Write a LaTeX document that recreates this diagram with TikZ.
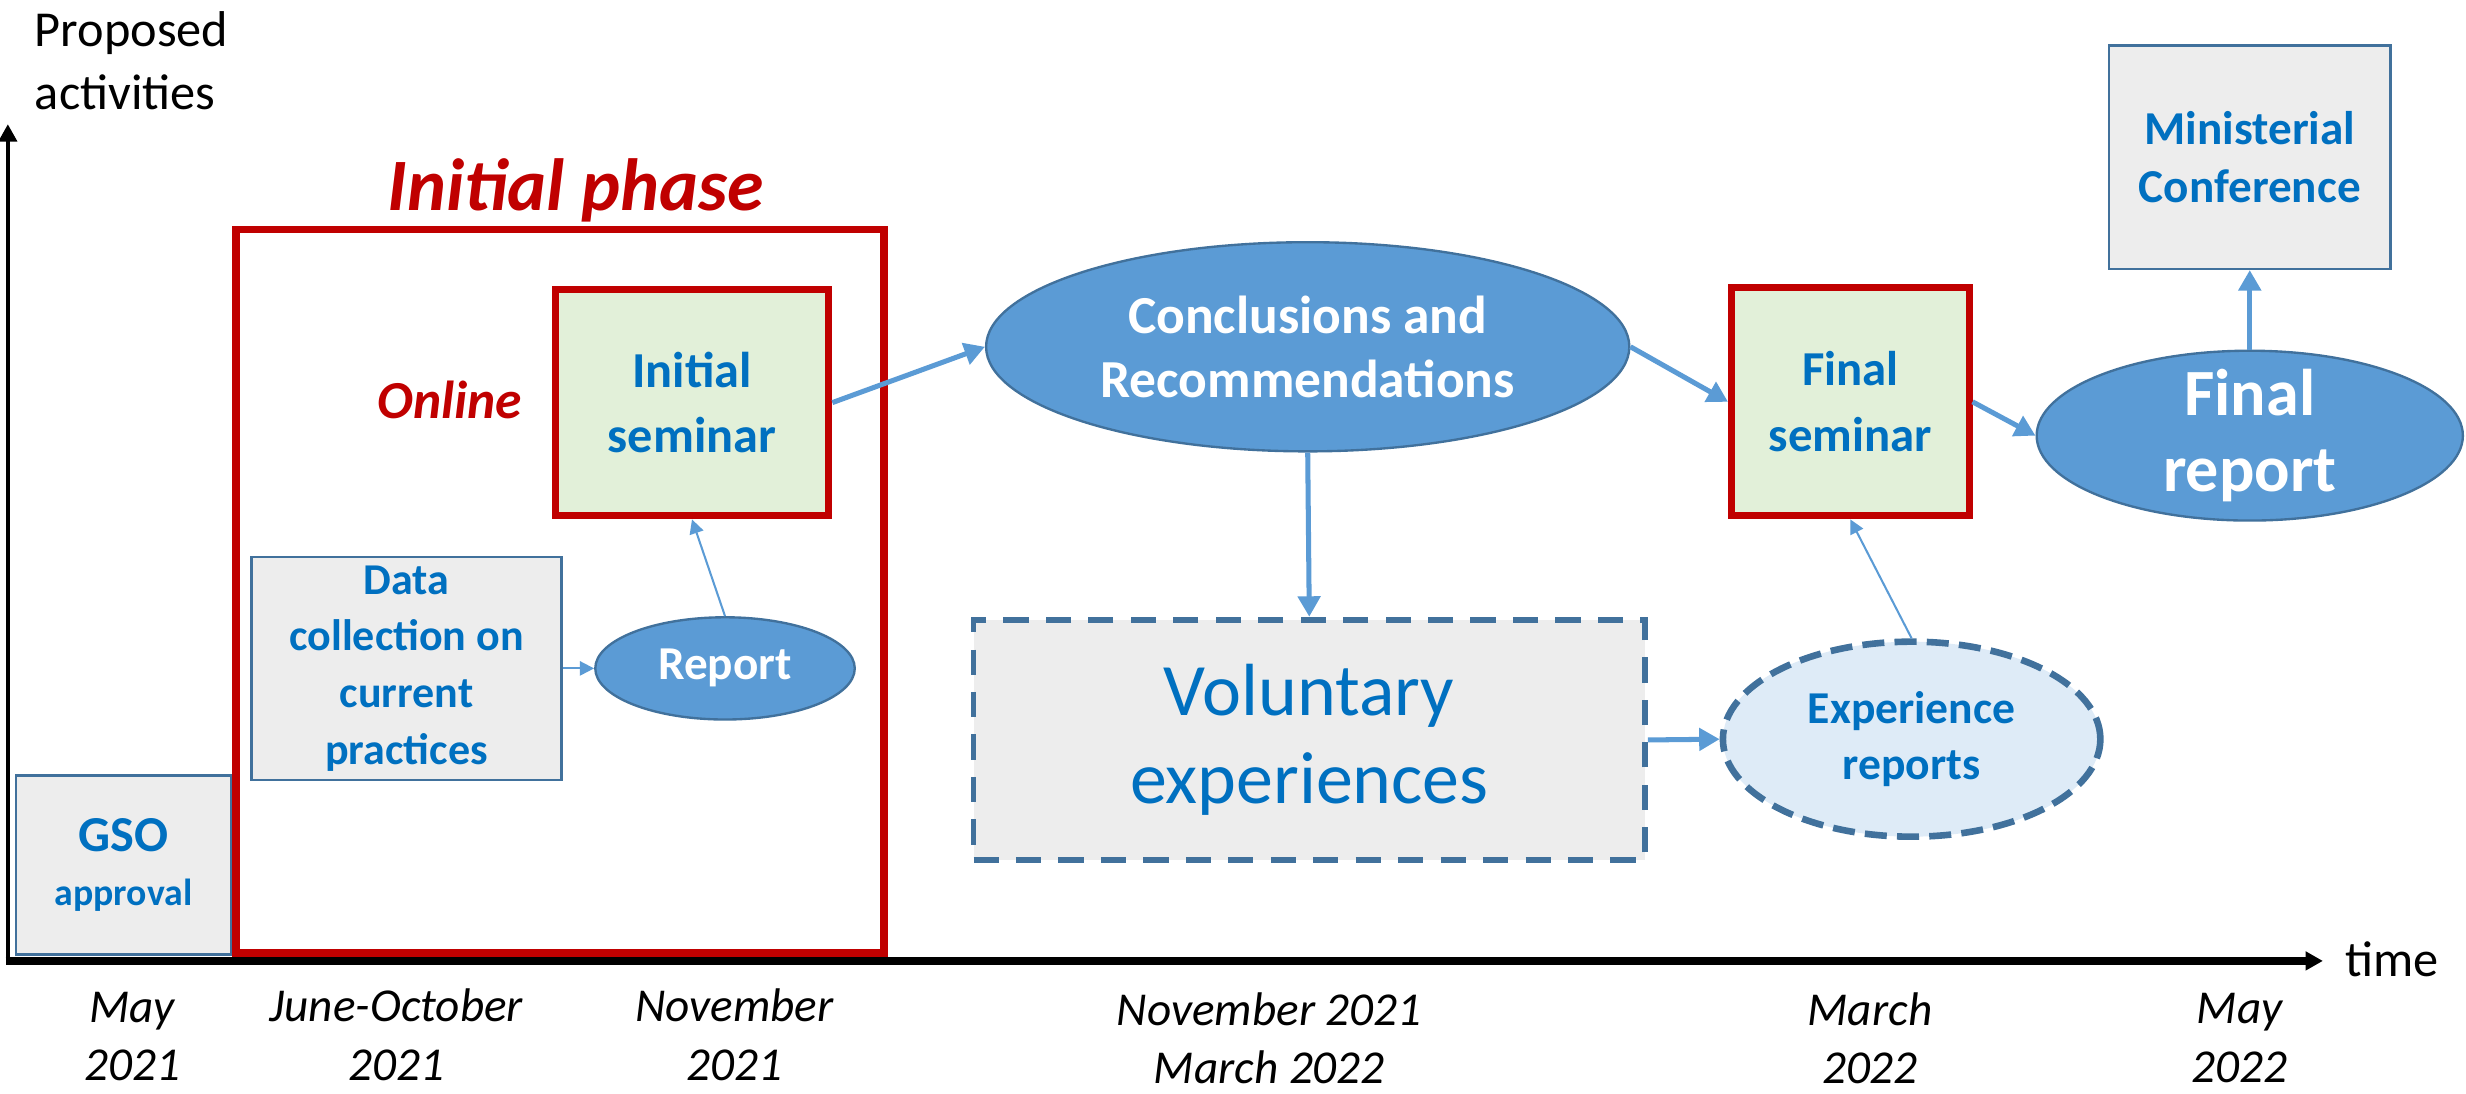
\documentclass[tikz,border=0pt]{standalone}
\usepackage{fontspec}
\setmainfont{Carlito}
\usetikzlibrary{arrows.meta,shapes.geometric}
\definecolor{phasered}{HTML}{C00000}
\definecolor{textblue}{HTML}{0070C0}
\definecolor{ovalblue}{HTML}{5B9BD5}
\definecolor{edgeblue}{HTML}{41719C}
\definecolor{boxgray}{HTML}{EDEDED}
\definecolor{seminargreen}{HTML}{E2F0D9}
\definecolor{paleblue}{HTML}{DEEBF7}

\begin{document}
\begin{tikzpicture}[x=1pt,y=-1pt]
        \tikzset{graybox/.style = {shape=rectangle,draw=edgeblue,fill=boxgray,line width=1.5pt,text=textblue,align=center,inner sep=0pt}}
        \tikzset{seminar/.style = {shape=rectangle,draw=phasered,fill=seminargreen,line width=4.5pt,text=textblue,align=center,inner sep=0pt,font=\fontsize{32}{41}\selectfont\bfseries}}
        \tikzset{oval/.style = {shape=ellipse,draw=edgeblue,fill=ovalblue,line width=1.5pt,text=white,align=center,inner sep=0pt}}
        \tikzset{dashbox/.style = {shape=rectangle,draw=edgeblue,fill=boxgray,line width=3.7pt,dash pattern=on 16pt off 11pt,text=textblue,align=center,inner sep=0pt,font=\fontsize{47}{56}\selectfont}}
        \tikzset{dashoval/.style = {shape=ellipse,draw=edgeblue,fill=paleblue,line width=4.2pt,dash pattern=on 14pt off 6.5pt,text=textblue,align=center,inner sep=0pt,font=\fontsize{29}{36}\selectfont\bfseries}}
        \tikzset{edge/.style = {-{Triangle[length=13pt,width=14pt]},draw=ovalblue,line width=3.2pt}}
        \tikzset{thinedge/.style = {-{Triangle[length=9pt,width=9pt]},draw=ovalblue,line width=1.3pt}}
        \tikzset{axis/.style = {-{Triangle[length=11pt,width=11.5pt]},draw=black}}
        \tikzset{datelabel/.style = {align=center,inner sep=0pt,font=\fontsize{30}{37}\selectfont\itshape}}
        \useasboundingbox (0,0) rectangle (1568,695);
        % axes
        \coordinate (origin) at (3.5,611);
        \coordinate (ybottom) at (5,613);
        \coordinate (ytop) at (5,79);
        \coordinate (xend) at (1477,611);
        \draw[axis,line width=2.5pt] (ybottom) -- (ytop);
        \draw[axis,line width=4.9pt] (origin) -- (xend);
        \node[anchor=north west,align=left,inner sep=0pt,font=\fontsize{32}{40}\selectfont] (ylabel) at (22,7) {Proposed\\activities};
        \node[anchor=base west,inner sep=0pt,font=\fontsize{32}{39}\selectfont] (xlabel) at (1491,621) {time};
        % initial phase
        \node[shape=rectangle,draw=phasered,line width=4.8pt,minimum width=412pt,minimum height=460pt] (phase) at (356,376) {};
        \node[anchor=base,inner sep=0pt,text=phasered,font=\fontsize{47}{56}\selectfont\bfseries\itshape] (phasetitle) at (366,134) {Initial phase};
        \node[anchor=base,inner sep=0pt,text=phasered,font=\fontsize{34}{40}\selectfont\bfseries\itshape] (online) at (286,266) {Online};
        % vertices
        \node[graybox,minimum width=137pt,minimum height=114pt,font=\fontsize{32}{34}\selectfont\bfseries] (gso) at (78.5,550) {GSO\\{\fontsize{24}{34}\selectfont approval}};
        \node[graybox,minimum width=197pt,minimum height=142pt,font=\fontsize{28}{36}\selectfont\bfseries] (data) at (258.5,425) {Data\\collection on\\current\\practices};
        \node[oval,minimum width=165pt,minimum height=65pt,font=\fontsize{30}{36}\selectfont\bfseries] (report) at (461,425) {Report};
        \node[seminar,minimum width=174pt,minimum height=144pt] (iseminar) at (440,256) {Initial\\seminar};
        \node[oval,minimum width=409pt,minimum height=133pt,font=\fontsize{34}{41}\selectfont\bfseries] (concl) at (831.5,220.5) {Conclusions and\\Recommendations};
        \node[dashbox,minimum width=427pt,minimum height=153pt] (volunt) at (832.5,470.5) {Voluntary\\experiences};
        \node[dashoval,minimum width=240pt,minimum height=124pt] (exper) at (1215.5,470) {Experience\\reports};
        \node[seminar,minimum width=151pt,minimum height=145pt,font=\fontsize{31}{42}\selectfont\bfseries] (fseminar) at (1176.5,255.5) {Final\\seminar};
        \node[oval,minimum width=271pt,minimum height=108pt,inner ysep=-6pt,font=\fontsize{42}{48}\selectfont\bfseries] (freport) at (1430.5,277) {Final\\report};
        \node[graybox,minimum width=179pt,minimum height=142pt,font=\fontsize{30}{37}\selectfont\bfseries] (minist) at (1430.5,100) {Ministerial\\Conference};
        % dates
        \node[datelabel] (may21) at (84,659) {May\\2021};
        \node[datelabel] (junoct21) at (252,658) {June-October\\2021};
        \node[datelabel] (nov21) at (467,658) {November\\2021};
        \node[datelabel] (nov21mar22) at (807,660) {November 2021\\March 2022};
        \node[datelabel] (mar22) at (1189,660) {March\\2022};
        \node[datelabel] (may22) at (1424,660) {May\\2022};
        %edges
        \draw[thinedge] (data.east) -- (report.west);
        \draw[thinedge] (report.north) -- (iseminar.south);
        \draw[edge] (iseminar.east) -- (concl.west);
        \draw[edge] (concl.east) -- (fseminar.west);
        \draw[edge] (concl.south) -- (volunt.north);
        \draw[edge] (volunt.east) -- (exper.west);
        \draw[thinedge] (exper.north) -- (fseminar.south);
        \draw[edge] (fseminar.east) -- (freport.west);
        \draw[edge] (freport.north) -- (minist.south);
\end{tikzpicture}
\end{document}
